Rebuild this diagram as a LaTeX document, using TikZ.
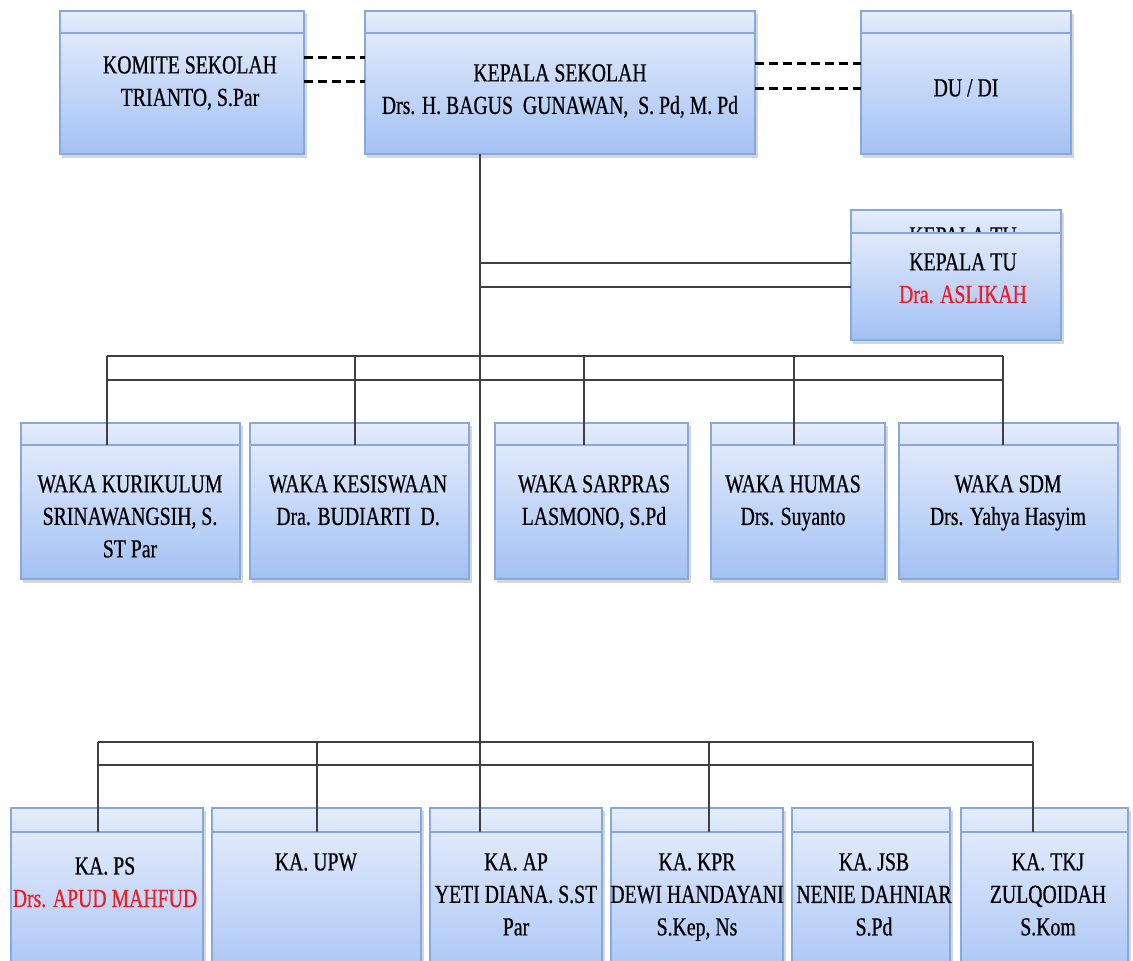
\documentclass[tikz,border=0pt]{standalone}
\usepackage{fontspec}
\setmainfont[FakeStretch=0.76,FakeBold=0.6]{Liberation Serif}
\definecolor{bordc}{HTML}{86A8DC}
\definecolor{hdrtop}{HTML}{E6EEFC}
\definecolor{hdrbot}{HTML}{D6E3F9}
\definecolor{bdytop}{HTML}{E0E9FB}
\definecolor{bdybot}{HTML}{A3C1F4}
\definecolor{redtxt}{HTML}{EE1C25}
\newcommand\obox[6]{%
  \fill[black,opacity=0.16] (#2+2,#3+3) rectangle (#4+3,#5+4);
  \node[hdr,minimum width={#4-#2},minimum height={#6-#3},anchor=north west] (#1h) at (#2,#3) {};
  \node[bdy,minimum width={#4-#2},minimum height={#5-#6},anchor=north west] (#1) at (#2,#6) {};
}
\begin{document}
\begin{tikzpicture}[x=1pt,y=-1pt,
  hdr/.style={draw=bordc,line width=1.3pt,top color=hdrtop,bottom color=hdrbot,inner sep=0pt,outer sep=0pt},
  bdy/.style={draw=bordc,line width=1.3pt,top color=bdytop,bottom color=bdybot,inner sep=0pt,outer sep=0pt},
  lbl/.style={font=\fontsize{26}{32.5}\selectfont,align=center,inner sep=0pt,anchor=north},
  conn/.style={draw=black!75,line width=1.5pt},
  dsh/.style={draw=black,line width=3pt,dash pattern=on 9pt off 5pt}]
\useasboundingbox (0,0) rectangle (1133,961);
\clip (0,0) rectangle (1133,961);
\fill[white] (0,0) rectangle (1133,961);

% coordinates
\coordinate (tr) at (480,0);
\coordinate (d1) at (0,57);
\coordinate (d2) at (0,81);
\coordinate (d3) at (0,63);
\coordinate (d4) at (0,88);
\coordinate (tu1) at (0,263);
\coordinate (tu2) at (0,287);
\coordinate (wa1) at (107,356);
\coordinate (wa2) at (1003,356);
\coordinate (wb1) at (107,380);
\coordinate (wb2) at (1003,380);
\coordinate (wkes) at (355,356);
\coordinate (wsar) at (584,356);
\coordinate (whum) at (794,356);
\coordinate (ka1) at (98,742);
\coordinate (ka2) at (1033,742);
\coordinate (kb1) at (98,765);
\coordinate (kb2) at (1033,765);
\coordinate (kupw) at (317,742);
\coordinate (kkpr) at (709,742);

% top row
\obox{kom}{60}{11}{304}{154}{33}
\obox{ks}{365}{11}{755}{154}{33}
\obox{dudi}{861}{11}{1071}{154}{33}

% kepala TU (header text partly hidden by body)
\fill[black,opacity=0.16] (853,213) rectangle (1064,344);
\node[hdr,minimum width=210,minimum height=23,anchor=north west] (tuh) at (851,210) {};
\node[lbl] (tuhidden) at (963,227) {KEPALA TU};
\node[bdy,minimum width=210,minimum height=107,anchor=north west] (tu) at (851,233) {};

% waka row
\obox{kur}{21}{423}{240}{579}{445}
\obox{kes}{250}{423}{469}{579}{445}
\obox{sar}{495}{423}{688}{579}{445}
\obox{hum}{711}{423}{885}{579}{445}
\obox{sdm}{899}{423}{1118}{579}{445}

% bottom row
\obox{ps}{11}{808}{203}{995}{832}
\obox{upw}{212}{808}{421}{995}{832}
\obox{ap}{430}{808}{602}{995}{832}
\obox{kpr}{611}{808}{783}{995}{832}
\obox{jsb}{792}{808}{950}{995}{832}
\obox{tkj}{961}{808}{1128}{995}{832}

% dashed links
\draw[dsh] (kom.east |- d1) -- (ks.west |- d1);
\draw[dsh] (kom.east |- d2) -- (ks.west |- d2);
\draw[dsh] (ks.east |- d3) -- (dudi.west |- d3);
\draw[dsh] (ks.east |- d4) -- (dudi.west |- d4);

% trunk
\draw[conn] (ks.south -| tr) -- (ap.north -| tr);
\draw[conn] (tr |- tu1) -- (tu.west |- tu1);
\draw[conn] (tr |- tu2) -- (tu.west |- tu2);

% waka bus
\draw[conn] (wa1) -- (wa2);
\draw[conn] (wb1) -- (wb2);
\draw[conn] (wa1) -- (wa1 |- kur.north);
\draw[conn] (wkes) -- (wkes |- kes.north);
\draw[conn] (wsar) -- (wsar |- sar.north);
\draw[conn] (whum) -- (whum |- hum.north);
\draw[conn] (wa2) -- (wa2 |- sdm.north);

% ka bus
\draw[conn] (ka1) -- (ka2);
\draw[conn] (kb1) -- (kb2);
\draw[conn] (ka1) -- (ka1 |- ps.north);
\draw[conn] (kupw) -- (kupw |- upw.north);
\draw[conn] (kkpr) -- (kkpr |- kpr.north);
\draw[conn] (ka2) -- (ka2 |- tkj.north);

% labels
\node[lbl] (tkom) at (190,56) {KOMITE SEKOLAH\\TRIANTO, S.Par};
\node[lbl] (tks) at (560,64) {KEPALA SEKOLAH\\Drs. H. BAGUS\ \ GUNAWAN,\ \ S. Pd, M. Pd};
\node[lbl] (tdudi) at (966,79) {DU / DI};
\node[lbl] (ttu) at (963,253) {KEPALA TU\\\textcolor{redtxt}{Dra. ASLIKAH}};

\node[lbl] (tkur) at (130,475) {WAKA KURIKULUM\\SRINAWANGSIH, S.\\ST Par};
\node[lbl] (tkes) at (358,475) {WAKA KESISWAAN\\Dra. BUDIARTI\ \ D.};
\node[lbl] (tsar) at (594,475) {WAKA SARPRAS\\LASMONO, S.Pd};
\node[lbl] (thum) at (793,475) {WAKA HUMAS\\Drs. Suyanto};
\node[lbl] (tsdm) at (1008,475) {WAKA SDM\\Drs. Yahya Hasyim};

\node[lbl] (tps) at (105,857) {KA. PS\\\textcolor{redtxt}{Drs. APUD MAHFUD}};
\node[lbl] (tupw) at (316,853) {KA. UPW};
\node[lbl] (tap) at (516,853) {KA. AP\\YETI DIANA. S.ST\\Par};
\node[lbl] (tkpr) at (697,853) {KA. KPR\\DEWI HANDAYANI\\S.Kep, Ns};
\node[lbl] (tjsb) at (874,853) {KA. JSB\\NENIE DAHNIAR\\S.Pd};
\node[lbl] (ttkj) at (1048,853) {KA. TKJ\\ZULQOIDAH\\S.Kom};
\end{tikzpicture}
\end{document}
